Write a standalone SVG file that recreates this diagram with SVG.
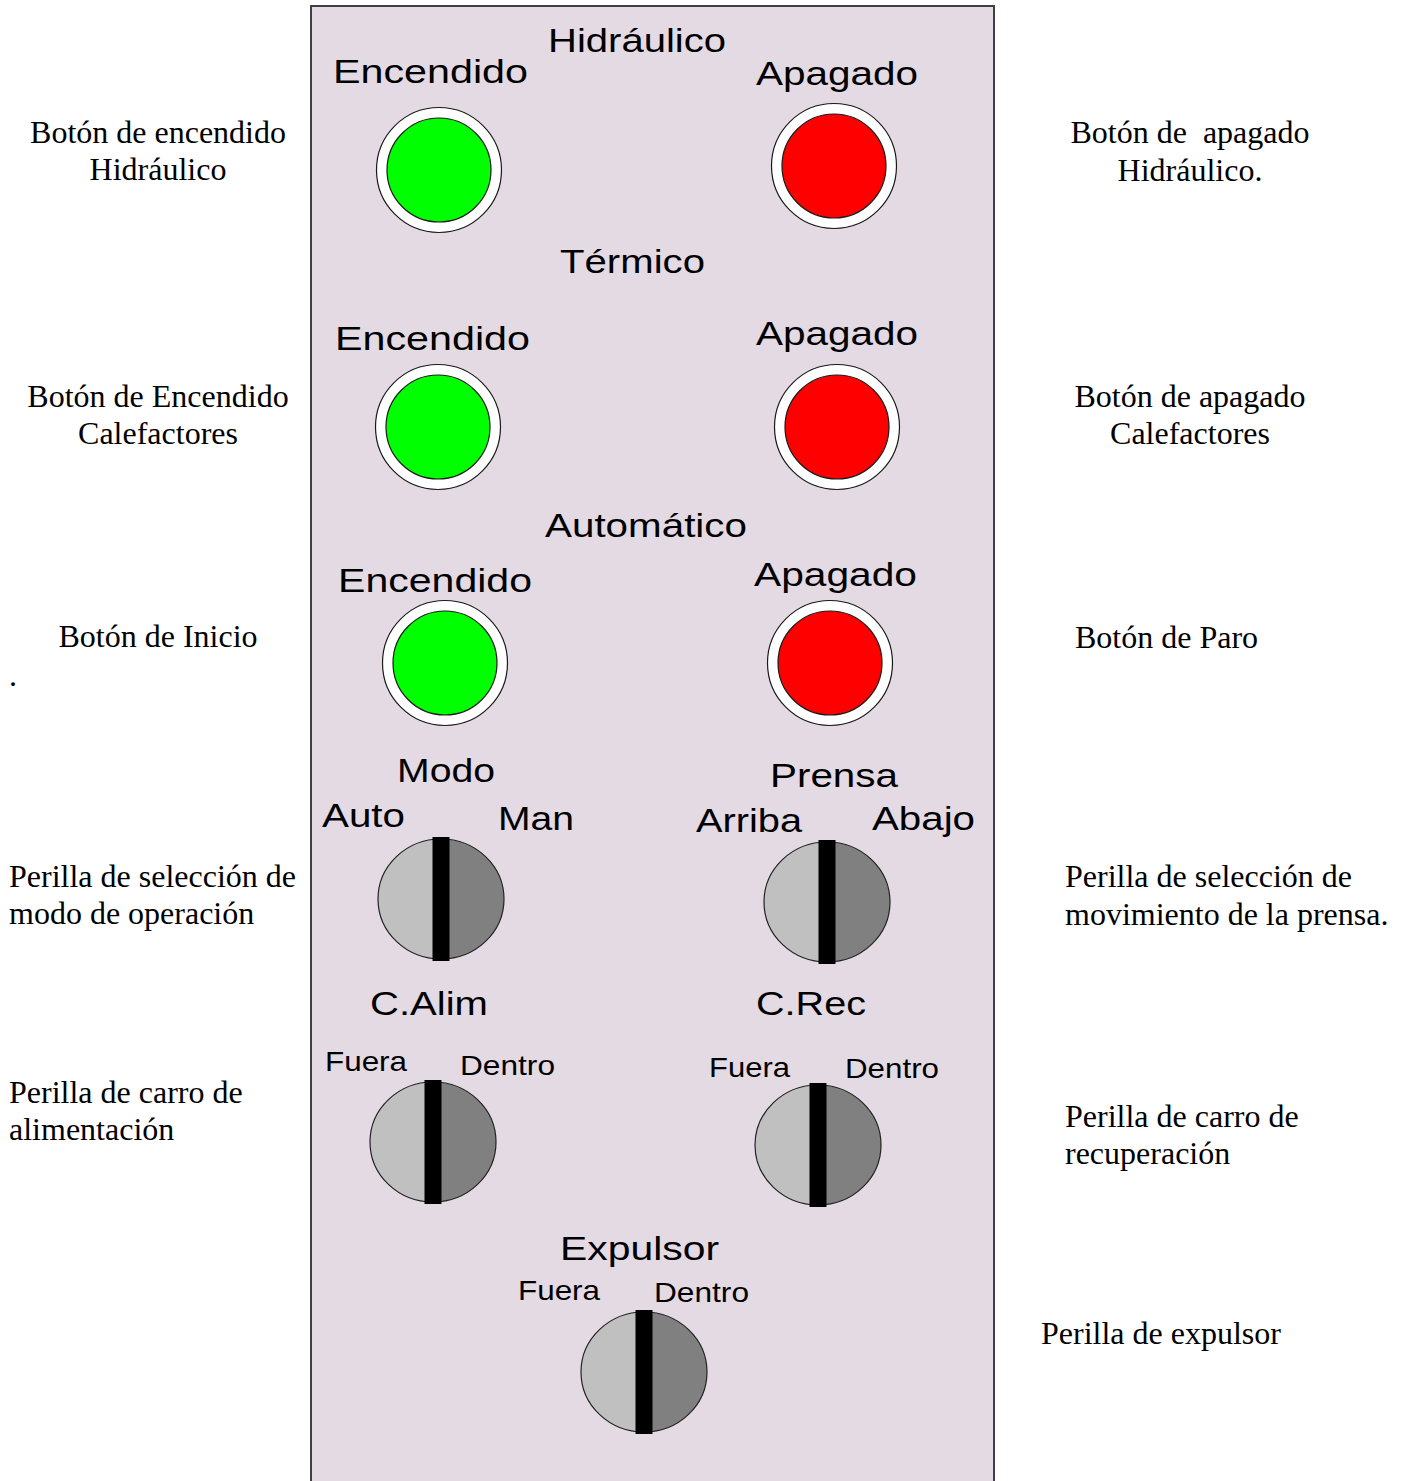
<svg xmlns="http://www.w3.org/2000/svg" xmlns:xlink="http://www.w3.org/1999/xlink" width="1403" height="1481" viewBox="0 0 1403 1481">
<style>
.note{font-family:"Liberation Serif","Times New Roman",serif;font-size:32px;fill:#000;white-space:pre}
.lbl{font-family:"Liberation Sans",Arial,sans-serif;font-size:34px;fill:#000}
.sm{font-family:"Liberation Sans",Arial,sans-serif;font-size:28px;fill:#000}
.ring{fill:#fff;stroke:#1a1a1a;stroke-width:1.2}
.on{fill:#00ff00;stroke:#1a1a1a;stroke-width:1.2}
.off{fill:#ff0000;stroke:#1a1a1a;stroke-width:1.2}
.kl{fill:#c0c0c0}
.kr{fill:#808080}
.ko{fill:none;stroke:#222;stroke-width:1.2}
</style>
<defs>
<g id="knob">
<path class="kl" d="M0,-60 A63,60 0 0 0 0,60 Z"/>
<path class="kr" d="M0,-60 A63,60 0 0 1 0,60 Z"/>
<ellipse class="ko" cx="0" cy="0" rx="63" ry="60"/>
<rect x="-8.5" y="-62" width="17" height="124" fill="#000"/>
</g>
<g id="btnOn"><circle class="ring" r="62.5"/><circle class="on" r="52"/></g>
<g id="btnOff"><circle class="ring" r="62.5"/><circle class="off" r="52"/></g>
</defs>
<rect width="1403" height="1481" fill="#fff"/>
<g id="panel">
<rect x="311" y="6" width="683" height="1490" fill="#e4dae4" stroke="#404040" stroke-width="2"/>
</g>
<g id="connectors"></g>

<g id="panel-labels">
<text class="lbl" x="548" y="52" font-size="35" textLength="178" lengthAdjust="spacingAndGlyphs">Hidráulico</text>
<text class="lbl" x="333" y="83" textLength="195" lengthAdjust="spacingAndGlyphs">Encendido</text>
<text class="lbl" x="756" y="85" textLength="162" lengthAdjust="spacingAndGlyphs">Apagado</text>
<text class="lbl" x="560" y="273" textLength="145" lengthAdjust="spacingAndGlyphs">Térmico</text>
<text class="lbl" x="335" y="350" textLength="195" lengthAdjust="spacingAndGlyphs">Encendido</text>
<text class="lbl" x="756" y="345" textLength="162" lengthAdjust="spacingAndGlyphs">Apagado</text>
<text class="lbl" x="545" y="537" textLength="202" lengthAdjust="spacingAndGlyphs">Automático</text>
<text class="lbl" x="338" y="592" textLength="194" lengthAdjust="spacingAndGlyphs">Encendido</text>
<text class="lbl" x="754" y="586" textLength="163" lengthAdjust="spacingAndGlyphs">Apagado</text>
<text class="lbl" x="397" y="782" textLength="98" lengthAdjust="spacingAndGlyphs">Modo</text>
<text class="lbl" x="322" y="827" textLength="83" lengthAdjust="spacingAndGlyphs">Auto</text>
<text class="lbl" x="498" y="830" textLength="76" lengthAdjust="spacingAndGlyphs">Man</text>
<text class="lbl" x="770" y="787" textLength="128" lengthAdjust="spacingAndGlyphs">Prensa</text>
<text class="lbl" x="696" y="832" textLength="106" lengthAdjust="spacingAndGlyphs">Arriba</text>
<text class="lbl" x="872" y="830" textLength="103" lengthAdjust="spacingAndGlyphs">Abajo</text>
<text class="lbl" x="370" y="1015" textLength="118" lengthAdjust="spacingAndGlyphs">C.Alim</text>
<text class="lbl" x="756" y="1015" textLength="110" lengthAdjust="spacingAndGlyphs">C.Rec</text>
<text class="sm" x="325" y="1071" textLength="82" lengthAdjust="spacingAndGlyphs">Fuera</text>
<text class="sm" x="460" y="1075" textLength="95" lengthAdjust="spacingAndGlyphs">Dentro</text>
<text class="sm" x="709" y="1077" textLength="81" lengthAdjust="spacingAndGlyphs">Fuera</text>
<text class="sm" x="845" y="1078" textLength="94" lengthAdjust="spacingAndGlyphs">Dentro</text>
<text class="lbl" x="560" y="1260" font-size="35" textLength="159" lengthAdjust="spacingAndGlyphs">Expulsor</text>
<text class="sm" x="518" y="1300" textLength="82" lengthAdjust="spacingAndGlyphs">Fuera</text>
<text class="sm" x="654" y="1302" textLength="95" lengthAdjust="spacingAndGlyphs">Dentro</text>
</g>

<g id="btn-hid-on"><use xlink:href="#btnOn" x="439" y="170"/></g>
<g id="btn-hid-off"><use xlink:href="#btnOff" x="834" y="166"/></g>
<g id="btn-ter-on"><use xlink:href="#btnOn" x="438" y="427"/></g>
<g id="btn-ter-off"><use xlink:href="#btnOff" x="837" y="427"/></g>
<g id="btn-auto-on"><use xlink:href="#btnOn" x="445" y="663"/></g>
<g id="btn-auto-off"><use xlink:href="#btnOff" x="830" y="663"/></g>

<g id="knob-modo"><use xlink:href="#knob" x="441" y="899"/></g>
<g id="knob-prensa"><use xlink:href="#knob" x="827" y="902"/></g>
<g id="knob-calim"><use xlink:href="#knob" x="433" y="1142"/></g>
<g id="knob-crec"><use xlink:href="#knob" x="818" y="1145"/></g>
<g id="knob-expulsor"><use xlink:href="#knob" x="644" y="1372"/></g>

<g id="notes-left">
<text class="note" x="158" y="143" text-anchor="middle">Botón de encendido</text>
<text class="note" x="158" y="180" text-anchor="middle">Hidráulico</text>
<text class="note" x="158" y="407" text-anchor="middle">Botón de Encendido</text>
<text class="note" x="158" y="444" text-anchor="middle">Calefactores</text>
<text class="note" x="158" y="647" text-anchor="middle">Botón de Inicio</text>
<text class="note" x="9" y="686">.</text>
<text class="note" x="9" y="887">Perilla de selección de</text>
<text class="note" x="9" y="924">modo de operación</text>
<text class="note" x="9" y="1103">Perilla de carro de</text>
<text class="note" x="9" y="1140">alimentación</text>
</g>
<g id="notes-right">
<text class="note" x="1190" y="143" text-anchor="middle">Botón de  apagado</text>
<text class="note" x="1190" y="181" text-anchor="middle">Hidráulico.</text>
<text class="note" x="1190" y="407" text-anchor="middle">Botón de apagado</text>
<text class="note" x="1190" y="444" text-anchor="middle">Calefactores</text>
<text class="note" x="1075" y="648">Botón de Paro</text>
<text class="note" x="1065" y="887">Perilla de selección de</text>
<text class="note" x="1065" y="925">movimiento de la prensa.</text>
<text class="note" x="1065" y="1127">Perilla de carro de</text>
<text class="note" x="1065" y="1164">recuperación</text>
<text class="note" x="1041" y="1344">Perilla de expulsor</text>
</g>
</svg>
